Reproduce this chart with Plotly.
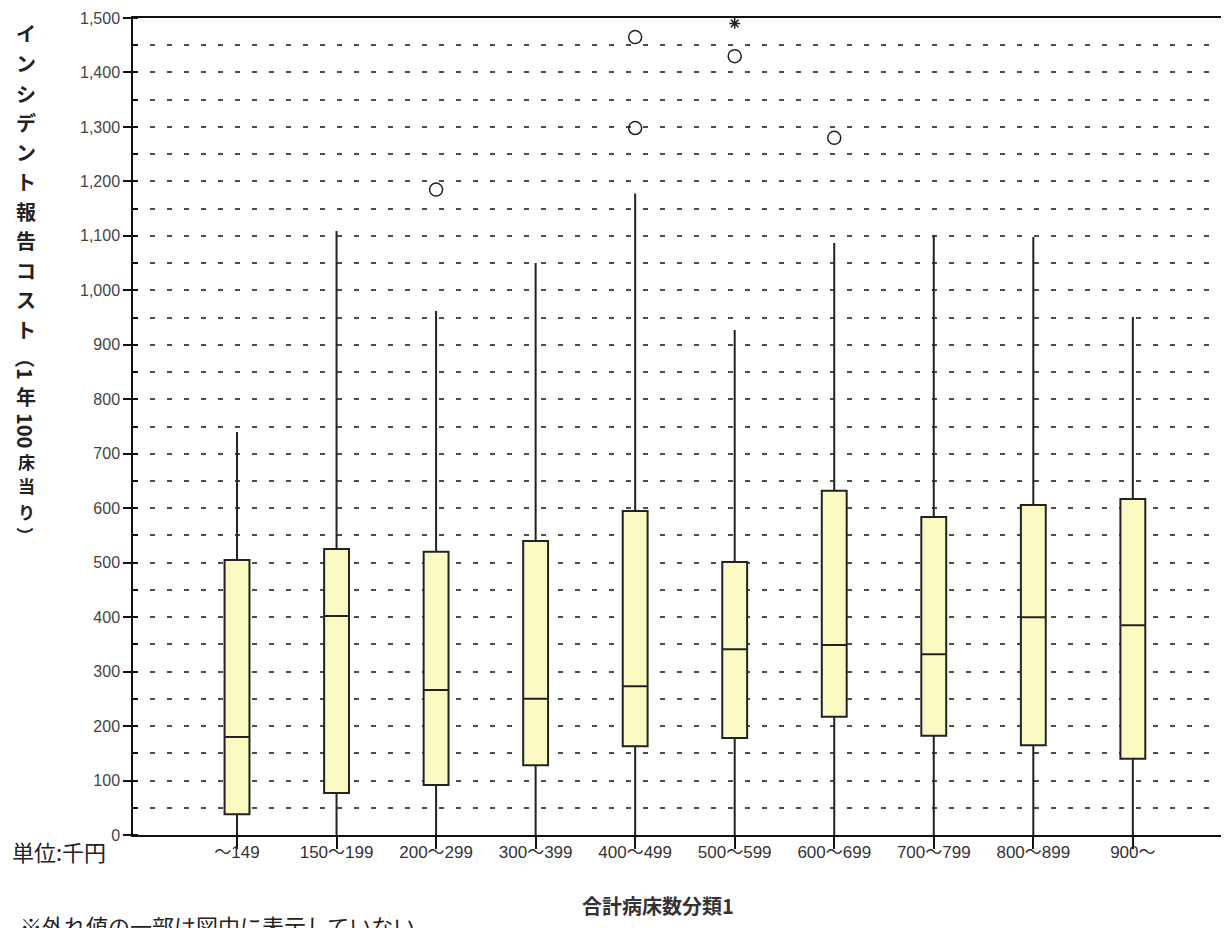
import plotly.graph_objects as go

categories = ["～149", "150～199", "200～299", "300～399", "400～499",
              "500～599", "600～699", "700～799", "800～899", "900～"]
lower_whisker = [0, 0, 0, 0, 0, 0, 0, 0, 0, 0]
q1 = [38, 77, 92, 128, 163, 178, 217, 182, 165, 140]
median = [180, 402, 266, 250, 273, 341, 349, 332, 400, 385]
q3 = [505, 525, 520, 540, 595, 501, 632, 584, 606, 617]
upper_whisker = [740, 1109, 962, 1050, 1178, 927, 1087, 1101, 1098, 951]

outlier_cat = ["200～299", "400～499", "400～499", "500～599", "600～699"]
outlier_val = [1185, 1465, 1298, 1430, 1280]
extreme_cat = ["500～599"]
extreme_val = [1490]

y_ticks = [0, 100, 200, 300, 400, 500, 600, 700, 800, 900, 1000, 1100, 1200, 1300, 1400, 1500]

# the page body has an 8px margin; the figure is sized so the window shows it exactly
OFF = 8
W, H = 1229 - OFF, 928 - OFF
L, R, T, B = 133 - OFF, 0, 18 - OFF, 928 - 835
PW = W - L - R
PH = H - T - B

fig = go.Figure()
fig.add_trace(go.Box(
    x=categories, q1=q1, median=median, q3=q3,
    lowerfence=lower_whisker, upperfence=upper_whisker,
    width=0.25, whiskerwidth=0, boxpoints=False,
    fillcolor="#FAFAC2", line=dict(color="#222222", width=2),
    showlegend=False, hoverinfo="skip"))
fig.add_trace(go.Scatter(
    x=outlier_cat, y=outlier_val, mode="markers",
    marker=dict(symbol="circle-open", size=13, color="#222222", line=dict(width=1.5)),
    showlegend=False, hoverinfo="skip"))
fig.add_trace(go.Scatter(
    x=extreme_cat, y=extreme_val, mode="markers",
    marker=dict(symbol="asterisk-open", size=9, color="#222222", line=dict(width=1.5)),
    showlegend=False, hoverinfo="skip", cliponaxis=False))

grid_style = dict(showgrid=True, gridcolor="#4d4d4d", gridwidth=2, griddash="5px,12px")

fig.update_layout(
    width=W, height=H,
    margin=dict(l=L, r=R, t=T, b=B),
    paper_bgcolor="white", plot_bgcolor="white",
    font=dict(family="Liberation Sans, Noto Sans CJK JP", color="#333333"),
    xaxis=dict(
        type="category", categoryorder="array", categoryarray=categories,
        range=[-1.045, 9.966], showgrid=False, zeroline=False,
        showline=True, linecolor="#111111", linewidth=1.5, mirror=True,
        ticks="outside", ticklen=12, tickwidth=1.5, tickcolor="#111111",
        tickfont=dict(size=17, color="#333333"), ticklabelstandoff=-11,
    ),
    yaxis=dict(
        range=[0, 1500], tickvals=y_ticks, tickformat=",d",
        zeroline=False, showline=True, linecolor="#111111", linewidth=1.5,
        ticks="outside", ticklen=8, tickwidth=1.5, tickcolor="#111111",
        tickfont=dict(size=16, color="#444444"),
        minor=dict(dtick=50, ticks="inside", ticklen=5, tickwidth=1.5,
                   tickcolor="#111111", **grid_style),
        **grid_style,
    ),
)


def px_to_paper(px, py):
    # px, py are window pixels
    return (px - OFF - L) / PW, (H - B - (py - OFF)) / PH


annotations = []
# vertical y-axis title: upright kana/kanji stacked, digits and brackets turned
title_parts = []
for i, ch in enumerate("インシデント報告コスト"):
    title_parts.append((ch, 0, 34 + 29.5 * i, 20))
title_parts += [
    ("（1", 90, 364, 20),
    ("年", 0, 396, 20),
    ("100", 90, 430, 20),
    ("床", 0, 461, 17),
    ("当", 0, 486, 17),
    ("り", 0, 511, 17),
    ("）", 90, 535, 17),
]
for txt, ang, py, sz in title_parts:
    x, y = px_to_paper(26, py)
    annotations.append(dict(
        text="<b>" + txt + "</b>", x=x, y=y, xref="paper", yref="paper",
        xanchor="center", yanchor="middle", showarrow=False, textangle=ang,
        borderpad=0,
        font=dict(size=sz, color="#222222", family="Noto Sans CJK JP")))

x, y = px_to_paper(10, 851)
annotations.append(dict(text="単位:千円", x=x, y=y, xref="paper", yref="paper",
                        xanchor="left", yanchor="middle", showarrow=False,
                        font=dict(size=22, color="#222222", family="Noto Sans CJK JP")))
x, y = px_to_paper(658, 905)
annotations.append(dict(text="<b>合計病床数分類1</b>", x=x, y=y, xref="paper", yref="paper",
                        xanchor="center", yanchor="middle", showarrow=False,
                        font=dict(size=20, color="#333333", family="Noto Sans CJK JP")))
x, y = px_to_paper(18, 907)
annotations.append(dict(text="※外れ値の一部は図中に表示していない", x=x, y=y, xref="paper", yref="paper",
                        xanchor="left", yanchor="top", showarrow=False,
                        font=dict(size=22, color="#222222", family="Noto Sans CJK JP")))
fig.update_layout(annotations=annotations)

fig.write_html("out.html")
